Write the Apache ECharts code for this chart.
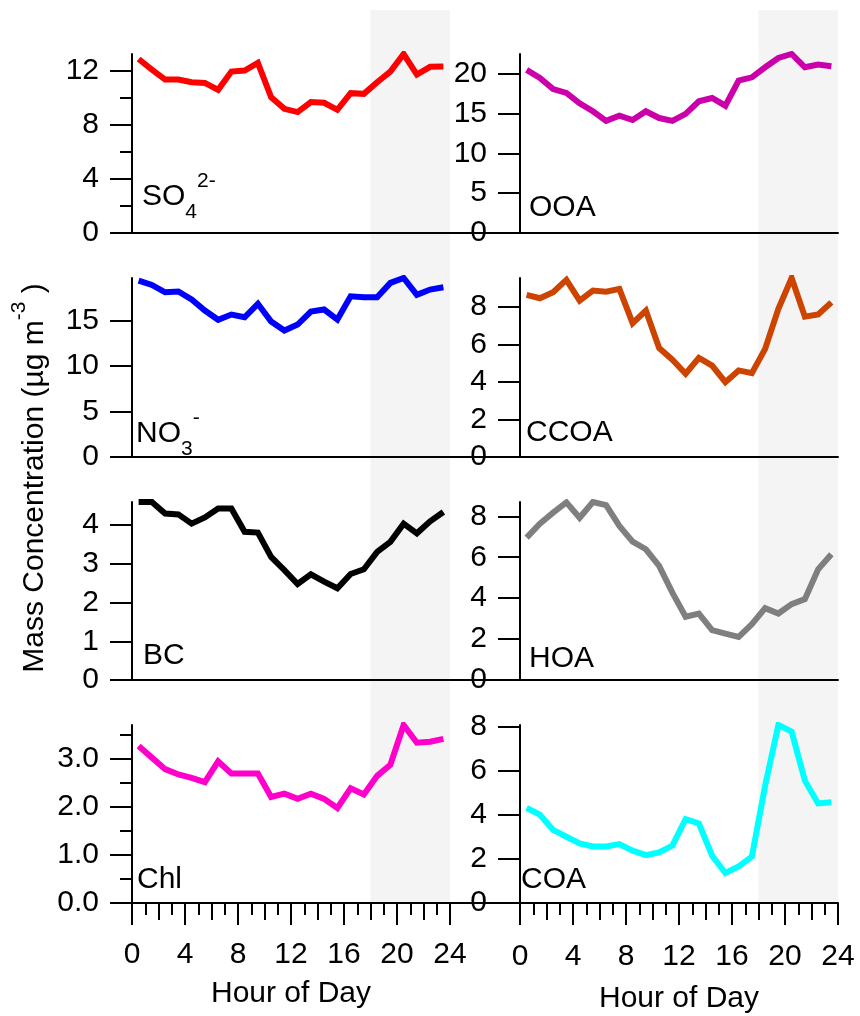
<!DOCTYPE html>
<html><head><meta charset="utf-8">
<script src="https://cdn.jsdelivr.net/npm/echarts@6.0.0/dist/echarts.min.js"></script>
<style>html,body{margin:0;padding:0;background:#fff}#c{width:860px;height:1016px}</style>
</head><body><div id="c"></div>
<script>
// ---------- data ----------
const HOURS = [0.5,1.5,2.5,3.5,4.5,5.5,6.5,7.5,8.5,9.5,10.5,11.5,12.5,13.5,14.5,15.5,16.5,17.5,18.5,19.5,20.5,21.5,22.5,23.5];
const SO4  = [12.88,12.1,11.36,11.36,11.16,11.11,10.6,11.95,12.02,12.59,10.05,9.19,8.95,9.69,9.64,9.12,10.35,10.3,11.16,11.95,13.25,11.73,12.3,12.32];
const OOA  = [20.5,19.5,18.1,17.6,16.3,15.3,14.1,14.75,14.2,15.3,14.45,14.1,14.97,16.55,16.97,16.0,19.15,19.57,20.83,22.0,22.5,20.83,21.17,20.96];
const NO3  = [19.41,18.94,18.13,18.21,17.33,16.12,15.1,15.68,15.38,16.86,14.91,13.92,14.58,16.01,16.23,15.13,17.69,17.58,17.58,19.16,19.7,17.85,18.43,18.68];
const CCOA = [8.65,8.47,8.79,9.45,8.34,8.88,8.82,8.97,7.14,7.81,5.82,5.19,4.44,5.29,4.88,3.99,4.62,4.47,5.77,7.9,9.55,7.49,7.6,8.25];
const BC   = [4.6,4.6,4.3,4.28,4.04,4.2,4.43,4.43,3.83,3.81,3.18,2.84,2.48,2.73,2.54,2.37,2.74,2.86,3.31,3.57,4.04,3.79,4.1,4.34];
const HOA  = [6.96,7.64,8.18,8.68,7.93,8.7,8.55,7.53,6.76,6.39,5.58,4.27,3.09,3.25,2.44,2.27,2.11,2.73,3.51,3.25,3.71,3.95,5.41,6.15];
const CHL  = [3.27,3.03,2.79,2.68,2.61,2.52,2.95,2.7,2.7,2.7,2.21,2.28,2.17,2.28,2.17,1.98,2.39,2.26,2.65,2.88,3.71,3.34,3.36,3.42];
const COA  = [4.3,4.0,3.31,3.0,2.7,2.56,2.56,2.67,2.37,2.17,2.29,2.6,3.8,3.6,2.14,1.36,1.66,2.1,5.31,8.06,7.76,5.54,4.51,4.56];

// y ranges and ticks
const Y_MAX = [13.25, 22.5, 19.7, 9.55, 4.6, 8.7, 3.71, 8.06];
const SO4_TICKS = [0,4,8,12];        const SO4_MINOR = [2,6,10];
const OOA_TICKS = [0,5,10,15,20];
const NO3_TICKS = [0,5,10,15];
const CCOA_TICKS = [0,2,4,6,8];
const BC_TICKS = [0,1,2,3,4];
const HOA_TICKS = [0,2,4,6,8];
const CHL_TICKS = [0,1,2,3];         const CHL_MINOR = [0.5,1.5,2.5,3.5];
const COA_TICKS = [0,2,4,6,8];
// x ticks
const X_MAJOR = [0,4,8,12,16,20,24];
const X_MID = [2,6,10,14,18,22];
const X_MINOR = [1,3,5,7,9,11,13,15,17,19,21,23];
const NIGHT = [18, 24];

const NAMES = ['SO4','OOA','NO3','CCOA','BC','HOA','Chl','COA'];
const VALUES = [SO4, OOA, NO3, CCOA, BC, HOA, CHL, COA];
const TICKS = [SO4_TICKS, OOA_TICKS, NO3_TICKS, CCOA_TICKS, BC_TICKS, HOA_TICKS, CHL_TICKS, COA_TICKS];

// ---------- styles / layout ----------
const COLORS = ['#ff0000','#cc00aa','#0000ff','#cc4400','#000000','#7f7f7f','#ff00cc','#00ffff'];
const FONT = '"Liberation Sans", Arial, Helvetica, sans-serif';
const FS = 30;
const COL_LEFT = [132, 520];
const GRID_W = 318;
const ROW_TOP = [54, 278, 502, 725];
const ROW_H = [179, 179, 178, 178];
const LABELS = [
  {t:'{m|SO}{sub|4}{sup|2-}', x:142, y:197},
  {t:'{m|OOA}', x:529, y:208},
  {t:'{m|NO}{sub|3}{sup|-}', x:136, y:434},
  {t:'{m|CCOA}', x:526, y:433},
  {t:'{m|BC}', x:143, y:656},
  {t:'{m|HOA}', x:529, y:659},
  {t:'{m|Chl}', x:137, y:880},
  {t:'{m|COA}', x:521, y:880}
];
const RICH = {
  m:{fontSize:FS, lineHeight:52, verticalAlign:'middle', fontFamily:FONT, color:'#000'},
  sub:{fontSize:21, lineHeight:32, verticalAlign:'bottom', fontFamily:FONT, color:'#000'},
  sup:{fontSize:21, lineHeight:21, verticalAlign:'top', fontFamily:FONT, color:'#000'}
};

const chart = echarts.init(document.getElementById('c'), null, {renderer:'canvas'});

const grids = [], xAxes = [], yAxes = [], series = [];
const axisLine = {show:true, onZero:false, lineStyle:{color:'#000', width:2}};

for (let p = 0; p < 8; p++) {
  const r = Math.floor(p/2), c = p % 2;
  grids.push({left: COL_LEFT[c], top: ROW_TOP[r], width: GRID_W, height: ROW_H[r], containLabel:false});
  const bottom = (r === 3);
  xAxes.push({
    type:'value', gridIndex:p, min:0, max:24, position:'bottom',
    axisLine: axisLine,
    splitLine:{show:false},
    axisTick: bottom ? {show:true, length:22, customValues:X_MAJOR, lineStyle:{color:'#000', width:2}} : {show:false},
    axisLabel: bottom ? {show:true, customValues:X_MAJOR, margin: c===0 ? 37 : 39, fontSize:FS, color:'#000', fontFamily:FONT} : {show:false},
    name: bottom ? 'Hour of Day' : '',
    nameLocation:'middle', nameGap: c===0 ? 76 : 81,
    nameTextStyle:{fontSize:FS, color:'#000', fontFamily:FONT}
  });
  const isChl = (p === 6);
  yAxes.push({
    type:'value', gridIndex:p, min:0, max:Y_MAX[p], position:'left',
    axisLine: axisLine,
    splitLine:{show:false},
    axisTick:{show:true, length:22, customValues:TICKS[p], lineStyle:{color:'#000', width:2}},
    axisLabel:{show:true, customValues:TICKS[p], margin:33, fontSize:FS, color:'#000', fontFamily:FONT,
      formatter: isChl ? (v => Number(v).toFixed(1)) : (v => String(v))}
  });
  series.push({
    type:'line', name:NAMES[p], xAxisIndex:p, yAxisIndex:p,
    data: HOURS.map((h,i)=>[h, VALUES[p][i]]),
    symbol:'none', silent:true,
    lineStyle:{color:COLORS[p], width:6, join:'miter'},
    z:5
  });
}
// extra tick axes for bottom row (mid and minor hour ticks)
[6,7].forEach(g => {
  xAxes.push({type:'value', gridIndex:g, min:0, max:24, position:'bottom',
    axisLine:{show:false}, splitLine:{show:false}, axisLabel:{show:false},
    axisTick:{show:true, length:17, customValues:X_MID, lineStyle:{color:'#000', width:2}}});
  xAxes.push({type:'value', gridIndex:g, min:0, max:24, position:'bottom',
    axisLine:{show:false}, splitLine:{show:false}, axisLabel:{show:false},
    axisTick:{show:true, length:12, customValues:X_MINOR, lineStyle:{color:'#000', width:2}}});
});
// minor y ticks
[[0, SO4_MINOR], [6, CHL_MINOR]].forEach(([g, vals]) => {
  yAxes.push({type:'value', gridIndex:g, min:0, max:Y_MAX[g], position:'left',
    axisLine:{show:false}, splitLine:{show:false}, axisLabel:{show:false},
    axisTick:{show:true, length:12, customValues:vals, lineStyle:{color:'#000', width:2}}});
});

chart.setOption({
  animation:false,
  backgroundColor:'#ffffff',
  textStyle:{fontFamily:FONT},
  grid:grids, xAxis:xAxes, yAxis:yAxes, series:series
});

// decorations computed via the axes
const gfx = [];
for (let c = 0; c < 2; c++) {
  const x1 = chart.convertToPixel({xAxisIndex: c}, NIGHT[0]);
  const x2 = chart.convertToPixel({xAxisIndex: c}, NIGHT[1]);
  const yb = chart.convertToPixel({yAxisIndex: 6 + c}, 0);
  gfx.push({type:'rect', z:-10, silent:true, shape:{x:x1, y:10, width:x2-x1, height:yb-10}, style:{fill:'#f4f4f4'}});
}
for (let r = 0; r < 4; r++) {
  const y = chart.convertToPixel({yAxisIndex: r*2}, 0);
  const xa = chart.convertToPixel({xAxisIndex: r*2}, 24);
  const xb = chart.convertToPixel({xAxisIndex: r*2+1}, 0);
  gfx.push({type:'line', z:1, silent:true, shape:{x1:xa, y1:y, x2:xb, y2:y}, style:{stroke:'#000', lineWidth:2}});
}
LABELS.forEach(l => {
  gfx.push({type:'text', z:10, silent:true, x:l.x, y:l.y,
    style:{text:l.t, rich:RICH, align:'left', verticalAlign:'middle'}});
});
gfx.push({type:'text', z:10, silent:true, x:35, y:478, rotation:Math.PI/2,
  style:{text:'{m|Mass Concentration (µg m}{sup|-3}{m| )}', rich:RICH, align:'center', verticalAlign:'middle'}});

chart.setOption({graphic:{elements:gfx}});
</script>
</body></html>
